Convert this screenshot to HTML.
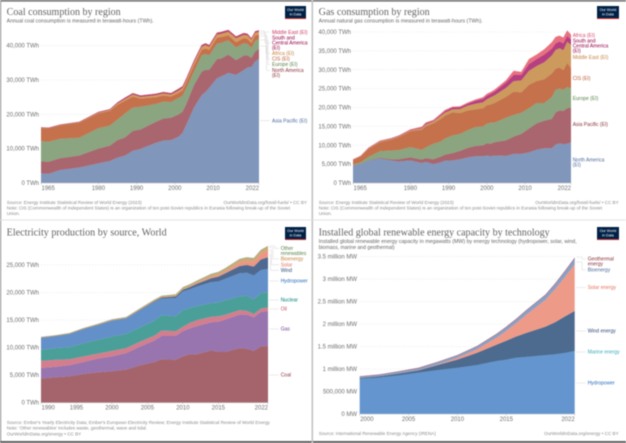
<!DOCTYPE html>
<html lang="en">
<head>
<meta charset="utf-8">
<title>Energy charts</title>
<style>
html,body{margin:0;padding:0;background:#fff;width:626px;height:443px;overflow:hidden}
svg{display:block;filter:blur(0.45px);font-family:"Liberation Sans",sans-serif}
.title{font-family:"Liberation Serif",serif;font-size:10px;fill:#636363}
.sub{font-size:5.1px;fill:#666}
.foot{font-size:4.6px;fill:#8a8a8a}
.tick{font-size:6px;fill:#6e6e6e}
.leg{font-size:5px}
.conn{fill:none;stroke:#dcdcdc;stroke-width:.6}
.logo-t{font-size:3.7px;fill:#fff;text-anchor:middle}
</style>
</head>
<body>
<svg id="page" width="626" height="443" viewBox="0 0 626 443" xmlns="http://www.w3.org/2000/svg">
<rect x="0" y="0" width="626" height="1.6" fill="#707070"/>
<rect x="0" y="0" width="1.2" height="443" fill="#9a9a9a"/>
<rect x="0" y="441" width="626" height="2" fill="#606060"/>
<rect x="311.5" y="0" width="1.6" height="443" fill="#c4c4c4"/>
<rect x="0" y="219.6" width="626" height=".8" fill="#dedede"/>

<g id="coal">
<text class="title" x="6.7" y="15" textLength="114" lengthAdjust="spacingAndGlyphs">Coal consumption by region</text>
<text class="sub" x="6.7" y="22.3" textLength="147" lengthAdjust="spacingAndGlyphs">Annual coal consumption is measured in terawatt-hours (TWh).</text>
<g><rect x="285" y="6" width="21" height="13" fill="#002147"/><rect x="285" y="18" width="21" height="1" fill="#ce261e"/><text class="logo-t" x="295.5" y="11">Our World</text><text class="logo-t" x="295.5" y="15.5">in Data</text></g>
<path class="conn" d="M260 31H264V32H270M260 32.5H265V43H270M260 34H266V53.500H270M260 36H267V59H270M260 40H268V64.500H270M260 46H266.500V70.500H270M260 120.700H270"/>
<g class="leg">
<text x="272" y="33.800" fill="#c8365f">Middle East (EI)</text>
<text x="272" y="39.500" fill="#970046">South and<tspan x="272" dy="5">Central America</tspan><tspan x="272" dy="5">(EI)</tspan></text>
<text x="272" y="55" fill="#c4803d">Africa (EI)</text>
<text x="272" y="60.500" fill="#b9562f">CIS (EI)</text>
<text x="272" y="66.200" fill="#578145">Europe (EI)</text>
<text x="272" y="72" fill="#883039">North America<tspan x="272" dy="5">(EI)</tspan></text>
<text x="272" y="122.700" fill="#4c6a9c">Asia Pacific (EI)</text>
</g>
<g>
<text class="foot" x="6.7" y="204">Source: Energy Institute Statistical Review of World Energy (2023)</text>
<text class="foot" x="307" y="204" text-anchor="end">OurWorldInData.org/fossil-fuels/ • CC BY</text>
<text class="foot" x="6.7" y="209.500">Note: CIS (Commonwealth of Independent States) is an organization of ten post-Soviet republics in Eurasia following break-up of the Soviet</text>
<text class="foot" x="6.7" y="215">Union.</text>
</g>
</g>

<g id="gas">
<text class="title" x="318.7" y="15" textLength="111" lengthAdjust="spacingAndGlyphs">Gas consumption by region</text>
<text class="sub" x="318.7" y="22.300" textLength="164" lengthAdjust="spacingAndGlyphs">Annual natural gas consumption is measured in terawatt-hours (TWh).</text>
<g><rect x="597" y="6" width="22" height="13" fill="#002147"/><rect x="597" y="18" width="22" height="1" fill="#ce261e"/><text class="logo-t" x="608" y="11">Our World</text><text class="logo-t" x="608" y="15.500">in Data</text></g>
<g class="leg">
<text x="572.700" y="36.800" fill="#d8456b">Africa (EI)</text>
<text x="572.700" y="42.500" fill="#970046">South and<tspan x="572.700" dy="5">Central America</tspan><tspan x="572.700" dy="5">(EI)</tspan></text>
<text x="572.700" y="58.800" fill="#c4803d">Middle East (EI)</text>
<text x="572.700" y="79.800" fill="#b9562f">CIS (EI)</text>
<text x="572.700" y="99.800" fill="#578145">Europe (EI)</text>
<text x="572.700" y="126.200" fill="#883039">Asia Pacific (EI)</text>
<text x="572.700" y="161.700" fill="#4c6a9c">North America<tspan x="572.700" dy="5">(EI)</tspan></text>
</g>
<g>
<text class="foot" x="318.700" y="204">Source: Energy Institute Statistical Review of World Energy (2023)</text>
<text class="foot" x="618.700" y="204" text-anchor="end">OurWorldInData.org/fossil-fuels/ • CC BY</text>
<text class="foot" x="318.700" y="209.500">Note: CIS (Commonwealth of Independent States) is an organization of ten post-Soviet republics in Eurasia following break-up of the Soviet</text>
<text class="foot" x="318.700" y="215">Union.</text>
</g>
</g>

<g id="elec">
<text class="title" x="6.700" y="235.500" textLength="160" lengthAdjust="spacingAndGlyphs">Electricity production by source, World</text>
<g><rect x="285" y="227" width="21" height="13" fill="#002147"/><rect x="285" y="239" width="21" height="1" fill="#ce261e"/><text class="logo-t" x="295.500" y="232">Our World</text><text class="logo-t" x="295.500" y="236.500">in Data</text></g>
<path class="conn" d="M269 246H275V248.300H279M269 247.500H273V259H279M269 250H271.500V264.700H279M269 255H270.500V270.300H279M269 281H279M269 300H279M269 309H279M269 329H279M269 375H279"/>
<g class="leg">
<text x="280.700" y="250" fill="#578145">Other<tspan x="280.700" dy="5.200">renewables</tspan></text>
<text x="280.700" y="260.700" fill="#c4803d">Bioenergy</text>
<text x="280.700" y="266.400" fill="#e56e5a">Solar</text>
<text x="280.700" y="272" fill="#2c4a77">Wind</text>
<text x="280.700" y="282.700" fill="#286bbb">Hydropower</text>
<text x="280.700" y="301.700" fill="#00847e">Nuclear</text>
<text x="280.700" y="310.700" fill="#c15065">Oil</text>
<text x="280.700" y="330.700" fill="#6d3e91">Gas</text>
<text x="280.700" y="376.700" fill="#883039">Coal</text>
</g>
<g>
<text class="foot" x="6.700" y="424.200">Source: Ember's Yearly Electricity Data; Ember's European Electricity Review; Energy Institute Statistical Review of World Energy</text>
<text class="foot" x="6.700" y="429.700">Note: 'Other renewables' includes waste, geothermal, wave and tidal.</text>
<text class="foot" x="6.700" y="435.500">OurWorldInData.org/energy • CC BY</text>
</g>
</g>

<g id="cap">
<text class="title" x="318.700" y="235.500" textLength="231" lengthAdjust="spacingAndGlyphs">Installed global renewable energy capacity by technology</text>
<text class="sub" x="318.700" y="243" textLength="258" lengthAdjust="spacingAndGlyphs">Installed global renewable energy capacity in megawatts (MW) by energy technology (hydropower, solar, wind,</text>
<text class="sub" x="318.700" y="249.200">biomass, marine and geothermal)</text>
<g><rect x="597" y="227" width="22" height="13" fill="#002147"/><rect x="597" y="239" width="22" height="1" fill="#ce261e"/><text class="logo-t" x="608" y="232">Our World</text><text class="logo-t" x="608" y="236.500">in Data</text></g>
<path class="conn" d="M576 257H582V259H586M576 262H582V270H586M576 287.500H586M576 331H586M576 352H586M576 383H586"/>
<g class="leg">
<text x="587.700" y="260.700" fill="#883039">Geothermal<tspan x="587.700" dy="5">energy</tspan></text>
<text x="587.700" y="271.700" fill="#4c6a9c">Bioenergy</text>
<text x="587.700" y="289.200" fill="#e56e5a">Solar energy</text>
<text x="587.700" y="332.700" fill="#2c4a77">Wind energy</text>
<text x="587.700" y="353.700" fill="#38aaba">Marine energy</text>
<text x="587.700" y="384.700" fill="#286bbb">Hydropower</text>
</g>
<g>
<text class="foot" x="318.700" y="435">Source: International Renewable Energy Agency (IRENA)</text>
<text class="foot" x="618.700" y="435" text-anchor="end">OurWorldInData.org/energy • CC BY</text>
</g>
</g>
</svg>

<script>
/* ---------- Coal consumption, thousand TWh ---------- */
const coalYears=[1965,1967,1970,1975,1980,1983,1985,1987,1989,1991,1995,1997,1999,2001,2002,2003,2005,2007,2008,2009,2011,2012,2014,2016,2018,2019,2020,2021,2022];
const coalAsiaPacific=[2.8,2.7,3.8,4.5,5.7,6.4,7.4,8.0,9.4,9.9,11.7,12.4,12.5,13.5,14.6,17.0,22.0,25.6,26.5,27.8,30.5,31.0,32.1,31.5,32.9,33.7,33.8,35.4,36.2];
const coalNorthAmerica=[3.5,3.5,3.4,3.5,4.3,4.5,5.1,5.3,5.8,5.7,6.1,6.4,6.5,6.5,6.2,6.0,6.5,6.8,6.5,5.2,5.6,5.2,5.3,4.3,4.2,3.5,2.6,2.9,2.9];
const coalEurope=[5.9,5.8,5.7,5.2,6,5.8,6,7,6.8,6.6,5.2,4.9,4.6,4.8,4.6,4.7,4,4.8,4.6,4.2,4.5,4.6,4.2,3.7,3.6,3.3,3,3.1,2.8];
const coalCIS=[3.8,3.9,3.9,4.4,4.3,4.3,4.3,3.7,3.2,2.4,2,1.8,1.6,1.5,1.6,1.6,1.8,1.6,1.6,1.6,1.7,1.7,1.4,1.5,1.5,1.5,1.4,1.6,1.3];
const coalAfrica=[.1,.1,.1,.1,.2,.3,.4,.5,.6,.5,.6,.6,.6,.7,.7,.7,.9,.9,1,.9,1,1,1.1,1.2,1,1,1,.8,.9];
const coalSouthCentralAmerica=[.08,.08,.08,.08,.15,.15,.2,.25,.25,.25,.25,.25,.25,.3,.3,.3,.3,.3,.3,.3,.3,.3,.3,.3,.3,.3,.25,.25,.25];
const coalMiddleEast=[.02,.02,.02,.02,.05,.05,.1,.15,.15,.15,.15,.15,.15,.2,.2,.2,.2,.2,.2,.2,.2,.2,.2,.2,.2,.2,.15,.15,.15];
const coalYTicks=[0,10,20,30,40];
const coalYLabels=["0 TWh","10,000 TWh","20,000 TWh","30,000 TWh","40,000 TWh"];
const coalXTicks=[1965,1980,1990,2000,2010,2022];

/* ---------- Gas consumption, thousand TWh ---------- */
const gasYears=[1965,1967,1969,1972,1975,1977,1980,1983,1984,1986,1988,1989,1991,1993,1995,1997,1999,2000,2001,2002,2005,2007,2009,2011,2013,2015,2017,2018,2019,2020,2021,2022];
const gasNorthAmerica=[4.6,5.0,5.9,6.5,6.0,5.7,6.0,5.3,5.6,5.0,5.5,5.9,6.0,6.3,6.8,7.1,7.1,7.3,7.1,7.3,7.2,7.7,7.7,8.1,8.8,9.2,9.2,10.2,10.5,10.3,10.4,10.8];
const gasAsiaPacific=[.1,.1,.1,.2,.3,.6,.8,.9,1,1.3,1.5,1.6,1.9,2.2,2.5,2.7,2.9,3.2,3.3,3.5,4.1,4.6,5.3,6.3,7,7.3,7.8,8.5,8.7,8.8,9.4,9.2];
const gasEurope=[.2,.4,.9,1.7,2.3,2.4,2.7,2.6,2.8,4.1,4,4.3,4.7,4.5,4.7,5,5,5.2,5.6,5.2,6,5.7,5.6,5.4,5.4,4.7,5.8,6,5.8,5.6,5.6,5.1];
const gasCIS=[1.2,1.5,2.1,2.4,2.9,3.5,4.2,5.3,5.6,5.4,6,6,6.1,5.5,5.2,4.7,4.8,4.9,4.8,5.2,5.5,6.2,5.4,6.2,5.8,6.3,6.2,5.6,5.6,5.2,6.4,5.3];
const gasMiddleEast=[.05,.1,.1,.2,.2,.2,.2,.4,.5,.5,.8,.8,.8,1.1,1.3,1.5,1.6,1.6,1.9,2,2.4,2.8,3.2,3.7,4,4.5,4.8,5,5.1,5.3,5.6,6.2];
const gasSouthCentralAmerica=[.05,.05,.1,.1,.1,.1,.1,.2,.3,.2,.3,.4,.5,.5,.5,.8,.9,.9,.9,1,1.4,1.6,1.4,1.8,1.8,2,1.8,1.7,1.8,1.8,1.5,1.4];
const gasAfrica=[.05,.05,.1,.1,.1,.1,.2,.2,.2,.2,.3,.3,.2,.2,.3,.3,.4,.5,.5,.5,.6,1.1,.8,1.3,1.2,1.4,1.7,1.7,1.5,1.5,1.5,1.3];
const gasYTicks=[0,5,10,15,20,25,30,35,40];
const gasYLabels=["0 TWh","5,000 TWh","10,000 TWh","15,000 TWh","20,000 TWh","25,000 TWh","30,000 TWh","35,000 TWh","40,000 TWh"];
const gasXTicks=[1965,1980,1990,2000,2010,2022];

/* ---------- Electricity production, thousand TWh ---------- */
const elecYears=[1990,1992,1994,1996,1998,2000,2002,2004,2006,2007,2009,2010,2011,2012,2014,2015,2016,2018,2019,2020,2021,2022];
const elecCoal=[4.4,4.6,4.8,5.2,5.5,5.7,6.0,6.8,7.4,7.9,7.8,8.4,8.8,8.8,9.5,9.2,9.2,9.9,9.8,9.4,10.2,10.3];
const elecGas=[1.9,1.9,2.0,2.2,2.5,2.7,3.0,3.4,3.9,4.2,4.3,4.6,4.7,5.1,5.1,5.5,5.9,6.1,6.2,6.1,6.3,6.3];
const elecOil=[1.3,1.3,1.1,1.0,.9,1.0,.9,.9,.9,1.0,.9,.8,1.0,1.1,1.0,1.0,.9,.8,.7,.6,.6,.7];
const elecNuclear=[2.0,2.1,2.2,2.4,2.5,2.6,2.6,2.6,2.7,2.8,2.7,3,2.7,2.5,2.5,2.5,2.6,2.5,2.7,2.7,2.8,2.7];
const elecHydropower=[2.2,2.2,2.4,2.6,2.7,2.9,2.8,3.1,3.4,3,3.3,3.4,3.4,3.6,3.8,3.8,3.9,4.2,4.2,4.3,4.2,4.3];
const elecWind=[0,0,0,0,.02,.03,.05,.1,.15,.2,.3,.3,.4,.5,.7,.9,1,1.3,1.4,1.6,1.9,2.1];
const elecSolar=[0,0,0,0,0,0,0,0,0,0,.01,.03,.06,.1,.2,.25,.3,.6,.7,.85,1,1.3];
const elecBioenergy=[.1,.1,.1,.12,.13,.15,.15,.2,.22,.25,.3,.35,.37,.4,.5,.5,.55,.6,.6,.6,.65,.65];
const elecOtherRenewables=[.03,.03,.03,.03,.04,.04,.04,.05,.05,.05,.06,.07,.07,.07,.08,.08,.08,.09,.09,.09,.1,.1];
const elecYTicks=[0,5,10,15,20,25];
const elecYLabels=["0 TWh","5,000 TWh","10,000 TWh","15,000 TWh","20,000 TWh","25,000 TWh"];
const elecXTicks=[1990,1995,2000,2005,2010,2015,2022];

/* ---------- Renewable capacity, million MW ---------- */
const capYears=[2000,2002,2004,2006,2008,2010,2012,2014,2015,2016,2017,2019,2020,2021,2022];
const capHydropower=[.78,.81,.86,.92,.98,1.03,1.09,1.18,1.21,1.25,1.27,1.31,1.33,1.36,1.40];
const capMarine=[.0003,.0003,.0003,.0003,.0003,.0003,.0005,.0005,.0005,.0005,.0005,.0005,.0005,.0005,.0005];
const capWind=[.02,.03,.04,.05,.11,.18,.27,.36,.42,.47,.53,.63,.71,.81,.89];
const capSolar=[0,0,0,.005,.01,.04,.08,.16,.22,.30,.40,.60,.74,.88,1.04];
const capBioenergy=[.03,.03,.04,.04,.05,.05,.06,.07,.08,.08,.09,.10,.11,.12,.13];
const capGeothermal=[.008,.008,.009,.01,.01,.01,.011,.012,.012,.012,.013,.014,.014,.015,.015];
const capYTicks=[0,.5,1,1.5,2,2.5,3,3.5];
const capYLabels=["0 MW","500,000 MW","1 million MW","1.5 million MW","2 million MW","2.5 million MW","3 million MW","3.5 million MW"];
const capXTicks=[2000,2005,2010,2015,2022];

const NS="http://www.w3.org/2000/svg";

function makeEl(parent,tag){
  const el=document.createElementNS(NS,tag);
  parent.appendChild(el);
  return el;
}

function drawStack(groupId,frame,years,layers,yTicks,yLabels,xTicks){
  const root=document.getElementById(groupId);
  const minYear=years[0], maxYear=years[years.length-1];
  const xScale=function(year){return frame.x0+(year-minYear)/(maxYear-minYear)*(frame.x1-frame.x0);};
  const yScale=function(v){return frame.y0-v/frame.refValue*(frame.y0-frame.refY);};

  const plot=makeEl(root,"g");
  
  

  yTicks.forEach(function(t,i){
    const y=yScale(t);
    if(t>0){
      const grid=makeEl(plot,"line");
      
      
      grid.setAttribute("x1",frame.x0);
      grid.setAttribute("x2",frame.x1);
      grid.setAttribute("y1",y);
      grid.setAttribute("y2",y);
      grid.setAttribute("stroke","#e2e2e2");
      grid.setAttribute("stroke-width",".5");
      grid.setAttribute("stroke-dasharray","1.5 1.5");
    }
    const label=makeEl(root,"text");
    
    
    label.setAttribute("class","tick");
    label.setAttribute("x",frame.labelX);
    label.setAttribute("y",y+2);
    label.setAttribute("text-anchor","end");
    label.textContent=yLabels[i];
  });

  let base=years.map(function(){return 0;});
  layers.forEach(function(layer){
    const top=layer.values.map(function(v,i){return base[i]+v;});
    let topPath="";
    years.forEach(function(year,i){
      topPath+=(i?"L":"M")+xScale(year).toFixed(2)+" "+yScale(top[i]).toFixed(2);
    });
    let d=topPath;
    for(let i=years.length-1;i>=0;i--){
      d+="L"+xScale(years[i]).toFixed(2)+" "+yScale(base[i]).toFixed(2);
    }
    d+="Z";
    const area=makeEl(plot,"path");
    
    
    area.setAttribute("d",d);
    area.setAttribute("fill",layer.fill);
    const edge=makeEl(plot,"path");
    
    
    edge.setAttribute("d",topPath);
    edge.setAttribute("fill","none");
    edge.setAttribute("stroke",layer.fill);
    edge.setAttribute("stroke-width",".2");
    base=top;
  });

  const axis=makeEl(plot,"line");
  
  
  axis.setAttribute("x1",frame.x0);
  axis.setAttribute("x2",frame.x1);
  axis.setAttribute("y1",frame.y0);
  axis.setAttribute("y2",frame.y0);
  axis.setAttribute("stroke","#bbb");
  axis.setAttribute("stroke-width",".6");

  xTicks.forEach(function(t,i){
    const x=xScale(t);
    const mark=makeEl(plot,"line");
    
    
    mark.setAttribute("x1",x);
    mark.setAttribute("x2",x);
    mark.setAttribute("y1",frame.y0);
    mark.setAttribute("y2",frame.y0+1.7);
    mark.setAttribute("stroke","#bbb");
    mark.setAttribute("stroke-width",".5");
    const label=makeEl(root,"text");
    
    
    label.setAttribute("class","tick");
    label.setAttribute("y",frame.y0+7);
    label.setAttribute("x",i===0?x+.5:x);
    label.setAttribute("text-anchor",i===0?"start":(i===xTicks.length-1?"end":"middle"));
    label.textContent=String(t);
  });
}

drawStack("coal",{x0:41,x1:259,y0:183,refY:45.7,refValue:40,labelX:39},coalYears,[
  {name:"asia-pacific",values:coalAsiaPacific,fill:"#8096ba"},
  {name:"north-america",values:coalNorthAmerica,fill:"#a9666f"},
  {name:"europe",values:coalEurope,fill:"#8aa57f"},
  {name:"cis",values:coalCIS,fill:"#c5714c"},
  {name:"africa",values:coalAfrica,fill:"#d59a5d"},
  {name:"south-central-america",values:coalSouthCentralAmerica,fill:"#a6366c"},
  {name:"middle-east",values:coalMiddleEast,fill:"#c8466b"}
],coalYTicks,coalYLabels,coalXTicks);

drawStack("gas",{x0:353,x1:571,y0:183,refY:32,refValue:40,labelX:351},gasYears,[
  {name:"north-america",values:gasNorthAmerica,fill:"#8096ba"},
  {name:"asia-pacific",values:gasAsiaPacific,fill:"#a9666f"},
  {name:"europe",values:gasEurope,fill:"#8aa57f"},
  {name:"cis",values:gasCIS,fill:"#c5714c"},
  {name:"middle-east",values:gasMiddleEast,fill:"#cb9a5c"},
  {name:"south-central-america",values:gasSouthCentralAmerica,fill:"#b53f80"},
  {name:"africa",values:gasAfrica,fill:"#e8707f"}
],gasYTicks,gasYLabels,gasXTicks);

drawStack("elec",{x0:41,x1:268,y0:402.7,refY:265,refValue:25,labelX:39},elecYears,[
  {name:"coal",values:elecCoal,fill:"#a5646b"},
  {name:"gas",values:elecGas,fill:"#9875ae"},
  {name:"oil",values:elecOil,fill:"#d37e8e"},
  {name:"nuclear",values:elecNuclear,fill:"#4aa098"},
  {name:"hydropower",values:elecHydropower,fill:"#6490c9"},
  {name:"wind",values:elecWind,fill:"#4f6a90"},
  {name:"solar",values:elecSolar,fill:"#ee9684"},
  {name:"bioenergy",values:elecBioenergy,fill:"#cda878"},
  {name:"other-renewables",values:elecOtherRenewables,fill:"#85a277"}
],elecYTicks,elecYLabels,elecXTicks);

drawStack("cap",{x0:359.7,x1:574.7,y0:414,refY:256.7,refValue:3.5,labelX:357},capYears,[
  {name:"hydropower",values:capHydropower,fill:"#6495cf"},
  {name:"marine-energy",values:capMarine,fill:"#38aaba"},
  {name:"wind-energy",values:capWind,fill:"#4d6a8f"},
  {name:"solar-energy",values:capSolar,fill:"#ee9a88"},
  {name:"bioenergy",values:capBioenergy,fill:"#8aa0c6"},
  {name:"geothermal-energy",values:capGeothermal,fill:"#a2505e"}
],capYTicks,capYLabels,capXTicks);
</script>
</body>
</html>
